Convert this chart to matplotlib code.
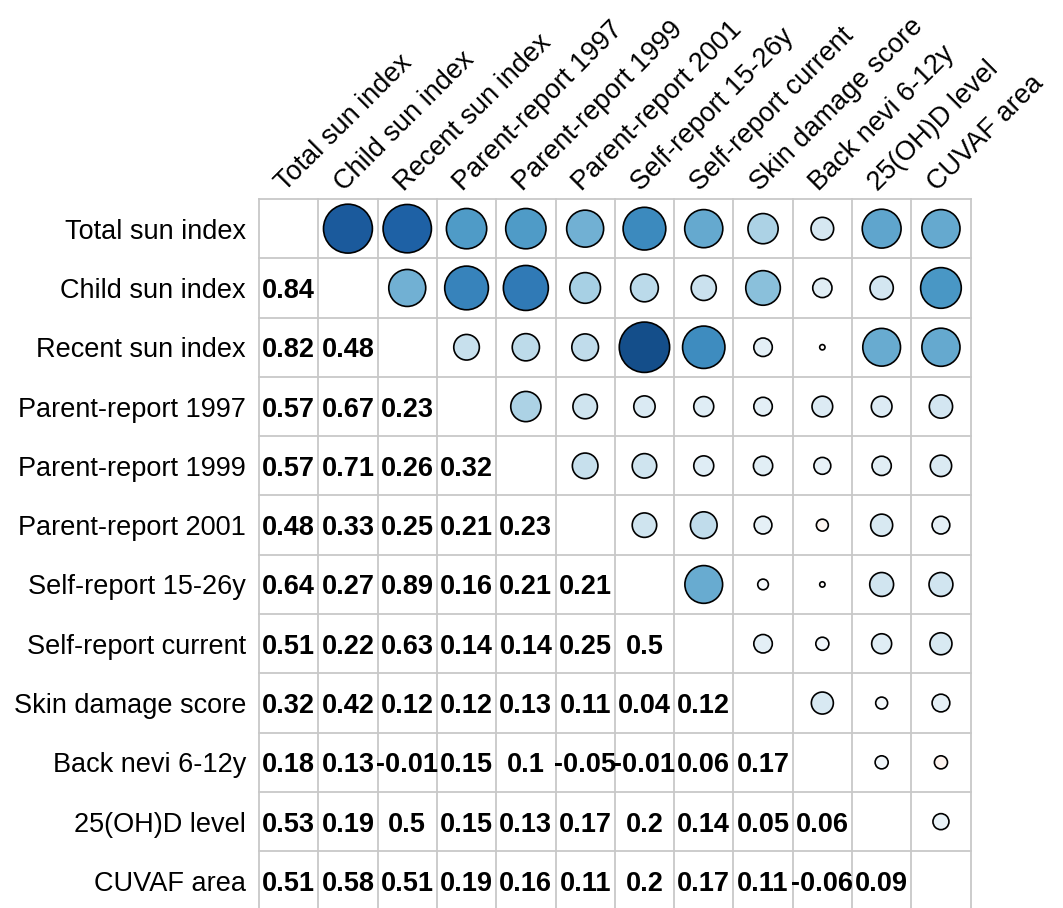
import numpy as np
import matplotlib
matplotlib.use("Agg")
import matplotlib.pyplot as plt
from matplotlib.patches import Circle
from matplotlib.colors import LinearSegmentedColormap, Normalize

labels = ["Total sun index", "Child sun index", "Recent sun index",
          "Parent-report 1997", "Parent-report 1999", "Parent-report 2001",
          "Self-report 15-26y", "Self-report current", "Skin damage score",
          "Back nevi 6-12y", "25(OH)D level", "CUVAF area"]

# lower triangle, row by row
lower = [
    [],
    [0.84],
    [0.82, 0.48],
    [0.57, 0.67, 0.23],
    [0.57, 0.71, 0.26, 0.32],
    [0.48, 0.33, 0.25, 0.21, 0.23],
    [0.64, 0.27, 0.89, 0.16, 0.21, 0.21],
    [0.51, 0.22, 0.63, 0.14, 0.14, 0.25, 0.5],
    [0.32, 0.42, 0.12, 0.12, 0.13, 0.11, 0.04, 0.12],
    [0.18, 0.13, -0.01, 0.15, 0.1, -0.05, -0.01, 0.06, 0.17],
    [0.53, 0.19, 0.5, 0.15, 0.13, 0.17, 0.2, 0.14, 0.05, 0.06],
    [0.51, 0.58, 0.51, 0.19, 0.16, 0.11, 0.2, 0.17, 0.11, -0.06, 0.09],
]

n = len(labels)
corr = np.eye(n)
for i, row in enumerate(lower):
    for j, v in enumerate(row):
        corr[i, j] = corr[j, i] = v

rdbu = ["#67001F", "#B2182B", "#D6604D", "#F4A582", "#FDDBC7", "#FFFFFF",
        "#D1E5F0", "#92C5DE", "#4393C3", "#2166AC", "#053061"]
cmap = LinearSegmentedColormap.from_list("corr", rdbu)
norm = Normalize(-1, 1)

plt.rcParams["font.family"] = ["Liberation Sans", "DejaVu Sans"]
fs = 19.5

W, H = 1063, 908
fig = plt.figure(figsize=(W / 100, H / 100), dpi=100)
x0, y0, cw = 259, 199, 59.3
ax = fig.add_axes([x0 / W, (H - y0 - n * cw) / H, n * cw / W, n * cw / H])
ax.set_xlim(0, n)
ax.set_ylim(n, 0)
ax.axis("off")

# grid
for k in range(n + 1):
    ax.plot([k, k], [0, n], color="#c8c8c8", lw=1.3, zorder=1, clip_on=False)
    ax.plot([0, n], [k, k], color="#c8c8c8", lw=1.3, zorder=1, clip_on=False)

for i in range(n):
    for j in range(n):
        v = corr[i, j]
        if j > i:
            r = 0.45 * np.sqrt(abs(v))
            ax.add_patch(Circle((j + 0.5, i + 0.5), r, facecolor=cmap(norm(v)),
                                edgecolor="black", lw=1.2, zorder=3))
        elif j < i:
            ax.text(j + 0.5, i + 0.5, f"{v:g}", ha="center", va="center_baseline",
                    fontsize=fs, fontweight="bold", zorder=4)

for i, lab in enumerate(labels):
    ax.text(-0.22, i + 0.5, lab, ha="right", va="center_baseline", fontsize=fs)
    ax.text(i + 0.44, -0.12, lab, ha="left", va="baseline", rotation=45,
            rotation_mode="anchor", fontsize=fs)

fig.savefig("out.png", dpi=100)
